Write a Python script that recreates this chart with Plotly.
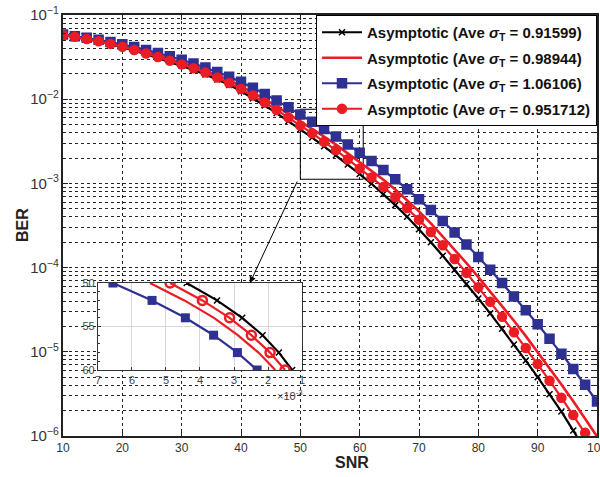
import plotly.graph_objects as go

# ---------------- data ----------------
SNR = list(range(10, 101, 2))

ber_black = [0.0579, 0.0549, 0.0517, 0.0484, 0.0450, 0.0414, 0.0377, 0.0342, 0.0309, 0.0278,
             0.0250, 0.0223, 0.0197, 0.0172, 0.0148, 0.0124, 0.01026, 8.41e-3, 6.84e-3, 5.51e-3,
             4.39e-3, 3.50e-3, 2.76e-3, 2.16e-3, 1.68e-3, 1.29e-3, 9.90e-4, 7.47e-4, 5.52e-4, 4.01e-4,
             2.86e-4, 2.00e-4, 1.38e-4, 9.44e-5, 6.40e-5, 4.30e-5, 2.86e-5, 1.88e-5, 1.22e-5, 7.87e-6,
             5.0e-6, 3.14e-6, 1.95e-6, 1.16e-6, 6.9e-7, 4.0e-7]

ber_red = [0.0580, 0.0552, 0.0523, 0.0493, 0.0461, 0.0428, 0.0394, 0.0360, 0.0329, 0.0300,
           0.0272, 0.0246, 0.0220, 0.0193, 0.0168, 0.01426, 0.01201, 1.000e-2, 8.24e-3, 6.73e-3,
           5.47e-3, 4.46e-3, 3.59e-3, 2.89e-3, 2.28e-3, 1.785e-3, 1.418e-3, 1.106e-3, 8.46e-4, 6.34e-4,
           4.66e-4, 3.36e-4, 2.36e-4, 1.643e-4, 1.131e-4, 7.72e-5, 5.24e-5, 3.52e-5, 2.34e-5, 1.536e-5,
           1.0e-5, 6.45e-6, 4.10e-6, 2.58e-6, 1.61e-6, 9.9e-7]

ber_blue = [0.0585, 0.0561, 0.0535, 0.0507, 0.0478, 0.0448, 0.0417, 0.0385, 0.0354, 0.0324,
            0.0294, 0.02655, 0.02377, 0.02109, 0.01854, 0.0161, 0.01371, 0.01156, 9.66e-3, 8.0e-3,
            6.56e-3, 5.41e-3, 4.43e-3, 3.60e-3, 2.90e-3, 2.32e-3, 1.84e-3, 1.44e-3, 1.117e-3, 8.55e-4,
            6.47e-4, 4.84e-4, 3.58e-4, 2.61e-4, 1.88e-4, 1.34e-4, 9.42e-5, 6.58e-5, 4.55e-5, 3.12e-5,
            2.12e-5, 1.43e-5, 9.5e-6, 6.25e-6, 4.06e-6, 2.57e-6]

ber_redc = [0.0579, 0.0550, 0.0519, 0.0487, 0.0454, 0.0420, 0.0384, 0.0349, 0.0317, 0.0287,
            0.0259, 0.0233, 0.0207, 0.0181, 0.0156, 0.0132, 0.01104, 9.12e-3, 7.46e-3, 6.05e-3,
            4.88e-3, 3.93e-3, 3.13e-3, 2.49e-3, 1.94e-3, 1.50e-3, 1.178e-3, 9.08e-4, 6.87e-4, 5.09e-4,
            3.70e-4, 2.64e-4, 1.84e-4, 1.268e-4, 8.65e-5, 5.85e-5, 3.92e-5, 2.60e-5, 1.71e-5, 1.11e-5,
            7.14e-6, 4.54e-6, 2.85e-6, 1.77e-6, 1.09e-6, 6.6e-7]

sigmas = ["0.91599", "0.98944", "1.06106", "0.951712"]

ZOOM_SNR = [50, 60.6]
ZOOM_BER = [7.6e-3, 1.12e-3]
INSET_SNR = [50, 60]
INSET_BER_E3 = [7, 1]

# ---------------- styles ----------------
BLACK = "#000000"
RED = "#ec1c24"
BLUE = "#2e3192"
FONT = "Arial, Liberation Sans, sans-serif"

series = [
    dict(y=ber_black, color=BLACK, mode="lines+markers", symbol="x-thin", size=6, lw=2.2),
    dict(y=ber_red, color=RED, mode="lines", symbol="circle", size=1, lw=2.6),
    dict(y=ber_blue, color=BLUE, mode="lines+markers", symbol="square", size=9, lw=2.2),
    dict(y=ber_redc, color=RED, mode="lines+markers", symbol="circle", size=9, lw=2.2),
]

fig = go.Figure()

# zoom rectangle on main plot
fig.add_trace(go.Scatter(
    x=[ZOOM_SNR[0], ZOOM_SNR[1], ZOOM_SNR[1], ZOOM_SNR[0], ZOOM_SNR[0]],
    y=[ZOOM_BER[0], ZOOM_BER[0], ZOOM_BER[1], ZOOM_BER[1], ZOOM_BER[0]],
    mode="lines", line=dict(color="black", width=1), showlegend=False, hoverinfo="skip",
))

for i, (s, sig) in enumerate(zip(series, sigmas)):
    mk = dict(symbol=s["symbol"], size=s["size"], color=s["color"],
              line=dict(color=s["color"], width=1.5))
    fig.add_trace(go.Scatter(
        x=SNR, y=s["y"], mode=s["mode"], legendgroup=f"g{i}",
        name=f"<b>Asymptotic (Ave <i>σ</i><sub>T</sub> = {sig})</b>",
        line=dict(color=s["color"], width=s["lw"]),
        marker=mk,
    ))

# inset traces (BER x 1e3 vs SNR, for SNR in the zoom window)
for s in series:
    pts = [(b * 1e3, n) for n, b in zip(SNR, s["y"]) if INSET_SNR[0] <= n <= INSET_SNR[1]]
    xs = [p[0] for p in pts]
    ys = [p[1] for p in pts]
    if s["symbol"] == "circle" and s["mode"] != "lines":
        mk = dict(symbol="circle-open", size=9, color=s["color"], line=dict(color=s["color"], width=2.5))
    elif s["symbol"] == "square":
        mk = dict(symbol="square", size=9, color=s["color"])
    else:
        mk = dict(symbol="x-thin", size=6, color=s["color"], line=dict(color=s["color"], width=1.5))
    fig.add_trace(go.Scatter(
        x=xs, y=ys, mode=s["mode"], xaxis="x2", yaxis="y2",
        line=dict(color=s["color"], width=2.2), marker=mk,
        showlegend=False, hoverinfo="skip",
    ))

grid = dict(color="rgba(0,0,0,0.85)", width=1, dash="dot")

fig.update_layout(
    width=600, height=477,
    margin=dict(l=63, r=3, t=15, b=41),
    paper_bgcolor="white", plot_bgcolor="white",
    font=dict(family=FONT, size=12, color="#333"),
    hovermode=False,
    showlegend=True,
    legend=dict(
        x=1, y=1, xanchor="right", yanchor="top",
        bgcolor="white", bordercolor="black", borderwidth=1,
        font=dict(family=FONT, size=15, color="#111"),
        itemwidth=40, tracegroupgap=3,
    ),
    xaxis=dict(
        range=[10, 100], dtick=10, tick0=10, automargin=False, ticklabeloverflow="allow",
        showline=True, linecolor="#222", linewidth=1.5, mirror="ticks",
        ticks="inside", ticklen=5, tickcolor="#222",
        showgrid=True, gridcolor=grid["color"], gridwidth=grid["width"], griddash=grid["dash"],
        zeroline=False, tickfont=dict(size=12, color="#333"),
    ),
    yaxis=dict(
        type="log", range=[-6, -1], dtick=1, exponentformat="power", automargin=False,
        showline=True, linecolor="#222", linewidth=1.5, mirror="ticks",
        ticks="inside", ticklen=5, tickcolor="#222",
        showgrid=True, gridcolor=grid["color"], gridwidth=grid["width"], griddash=grid["dash"],
        minor=dict(dtick="D1", showgrid=True, gridcolor=grid["color"], gridwidth=grid["width"],
                   griddash=grid["dash"], ticks="inside", ticklen=3, tickcolor="#222"),
        zeroline=False, tickfont=dict(size=12, color="#333"),
    ),
    xaxis2=dict(
        domain=[0.0655, 0.4476], anchor="y2", range=INSET_BER_E3, dtick=1, automargin=False,
        showline=True, linecolor="#333", linewidth=1.2, mirror=True,
        ticks="inside", ticklen=3, tickcolor="#333",
        showgrid=True, gridcolor="#d8d8d8", gridwidth=1, zeroline=False,
        tickfont=dict(size=11, color="#444"),
    ),
    yaxis2=dict(
        domain=[0.1568, 0.3634], anchor="x2", range=[INSET_SNR[1], INSET_SNR[0]], dtick=5,
        automargin=False,
        showline=True, linecolor="#333", linewidth=1.2, mirror=True,
        ticks="inside", ticklen=3, tickcolor="#333",
        minor=dict(dtick=1, ticks="inside", ticklen=2, tickcolor="#333"),
        showgrid=True, gridcolor="#d8d8d8", gridwidth=1, zeroline=False,
        tickfont=dict(size=11, color="#444"),
    ),
    annotations=[
        dict(text="<b>BER</b>", x=-0.0768, y=0.501, xref="paper", yref="paper",
             textangle=-90, showarrow=False, font=dict(size=16, color="#222"),
             xanchor="center", yanchor="middle"),
        dict(text="<b>SNR</b>", x=0.541, y=-0.064, xref="paper", yref="paper",
             showarrow=False, font=dict(size=16, color="#222"),
             xanchor="center", yanchor="middle"),
        dict(text="×10<sup>-3</sup>", x=0.425, y=0.097, xref="paper", yref="paper",
             showarrow=False, font=dict(size=11, color="#444"),
             xanchor="center", yanchor="middle"),
        dict(text="", x=0.350, y=0.3634, xref="paper", yref="paper",
             showarrow=True, ax=48, ay=-103, arrowhead=2, arrowsize=1.3,
             arrowwidth=1, arrowcolor="black"),
    ],
)

fig.write_html("out.html", config={"displayModeBar": False},
               post_script="document.body.style.margin='0px';")
